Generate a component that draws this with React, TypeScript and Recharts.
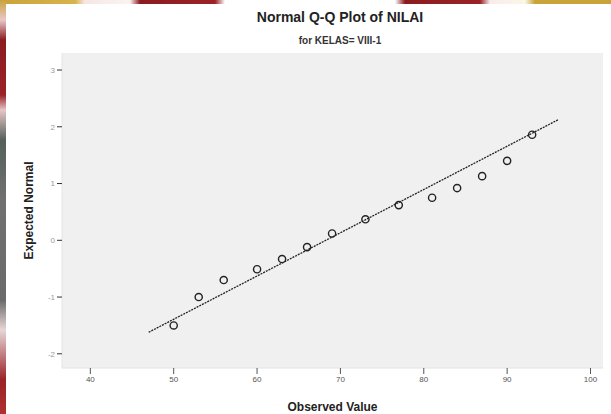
import React from 'react';
import {
  ScatterChart,
  Scatter,
  XAxis,
  YAxis,
  CartesianGrid,
} from 'recharts';

// observed NILAI values and their expected normal scores
const observed = [50, 53, 56, 60, 63, 66, 69, 73, 77, 81, 84, 87, 90, 93];
const expectedNormal = [-1.5, -1.0, -0.7, -0.51, -0.33, -0.12, 0.12, 0.37, 0.62, 0.75, 0.92, 1.13, 1.4, 1.86];

// reference line end points
const lineX = [47, 96.2];
const lineY = [-1.62, 2.13];

const xTicks = [40, 50, 60, 70, 80, 90, 100];
const yTicks = [-2, -1, 0, 1, 2, 3];

const points = observed.map((x, i) => ({ x, y: expectedNormal[i] }));
const refLine = lineX.map((x, i) => ({ x, y: lineY[i] }));

const font = '"Liberation Sans", Arial, sans-serif';

const OpenCircle = (props: any) => (
  <circle cx={props.cx} cy={props.cy} r={3.6} fill="none" stroke="#222" strokeWidth={1.4} />
);

const NoShape = () => <g />;

export default function App() {
  return (
    <div
      style={{
        position: 'absolute',
        left: 0,
        top: 0,
        width: 611,
        height: 414,
        background: '#fff',
        fontFamily: font,
        overflow: 'hidden',
      }}
    >
      {/* slide border strips */}
      <div
        style={{
          position: 'absolute',
          left: 0,
          top: 0,
          width: 611,
          height: 4,
          background:
            'linear-gradient(to right, #c9a23a 0px, #d8b24a 75px, #f6e6e6 85px, #fbf3f3 130px, #8a1c20 140px, #9b2226 215px, #ffffff 225px, #ffffff 395px, #8a1c20 405px, #9b2226 480px, #f8ecec 490px, #fbf6e6 525px, #c9a23a 535px, #c9a23a 611px)',
        }}
      />
      <div
        style={{
          position: 'absolute',
          left: 0,
          top: 0,
          width: 6,
          height: 414,
          background:
            'linear-gradient(to bottom, #c9a23a 0px, #e8c8c8 20px, #8a1c20 40px, #9b2226 95px, #e6c6c6 110px, #55605a 140px, #707070 200px, #6a6a6a 300px, #e8d6d6 330px, #9b2226 380px, #b03030 414px)',
        }}
      />
      <div
        style={{
          position: 'absolute',
          left: 0,
          width: 680,
          top: 9,
          textAlign: 'center',
          fontSize: 14,
          fontWeight: 'bold',
          color: '#222',
        }}
      >
        Normal Q-Q Plot of NILAI
      </div>
      <div
        style={{
          position: 'absolute',
          left: 0,
          width: 680,
          top: 35,
          textAlign: 'center',
          fontSize: 10,
          fontWeight: 'bold',
          color: '#333',
        }}
      >
        for KELAS= VIII-1
      </div>
      <ScatterChart width={611} height={414} margin={{ top: 53, right: 8, bottom: 0, left: 0 }}>
        <CartesianGrid fill="#f0f0f0" horizontal={false} vertical={false} />
        <XAxis
          type="number"
          dataKey="x"
          domain={[36.6, 101.5]}
          ticks={xTicks}
          height={46}
          tickSize={6}
          tick={{ fontSize: 8, fill: '#555', fontFamily: font }}
          tickLine={{ stroke: '#555' }}
          axisLine={{ stroke: '#e2e2e2' }}
          allowDataOverflow
          label={{
            value: 'Observed Value',
            position: 'insideBottom',
            offset: 3,
            style: { fontSize: 12, fontWeight: 'bold', fill: '#222', fontFamily: font },
          }}
        />
        <YAxis
          type="number"
          dataKey="y"
          domain={[-2.25, 3.3]}
          ticks={yTicks}
          width={62}
          tickSize={5}
          tick={{ fontSize: 8, fill: '#999', fontFamily: font }}
          tickLine={{ stroke: '#333' }}
          axisLine={{ stroke: '#e4e4e4' }}
          allowDataOverflow
          label={{
            value: 'Expected Normal',
            angle: -90,
            position: 'center',
            dx: -2,
            style: { fontSize: 12, fontWeight: 'bold', fill: '#222', fontFamily: font, textAnchor: 'middle' },
          }}
        />
        <Scatter
          data={refLine}
          line={{ stroke: '#222', strokeWidth: 1.3, strokeDasharray: '2 1' }}
          shape={NoShape}
          isAnimationActive={false}
        />
        <Scatter data={points} shape={OpenCircle} isAnimationActive={false} />
      </ScatterChart>
    </div>
  );
}
